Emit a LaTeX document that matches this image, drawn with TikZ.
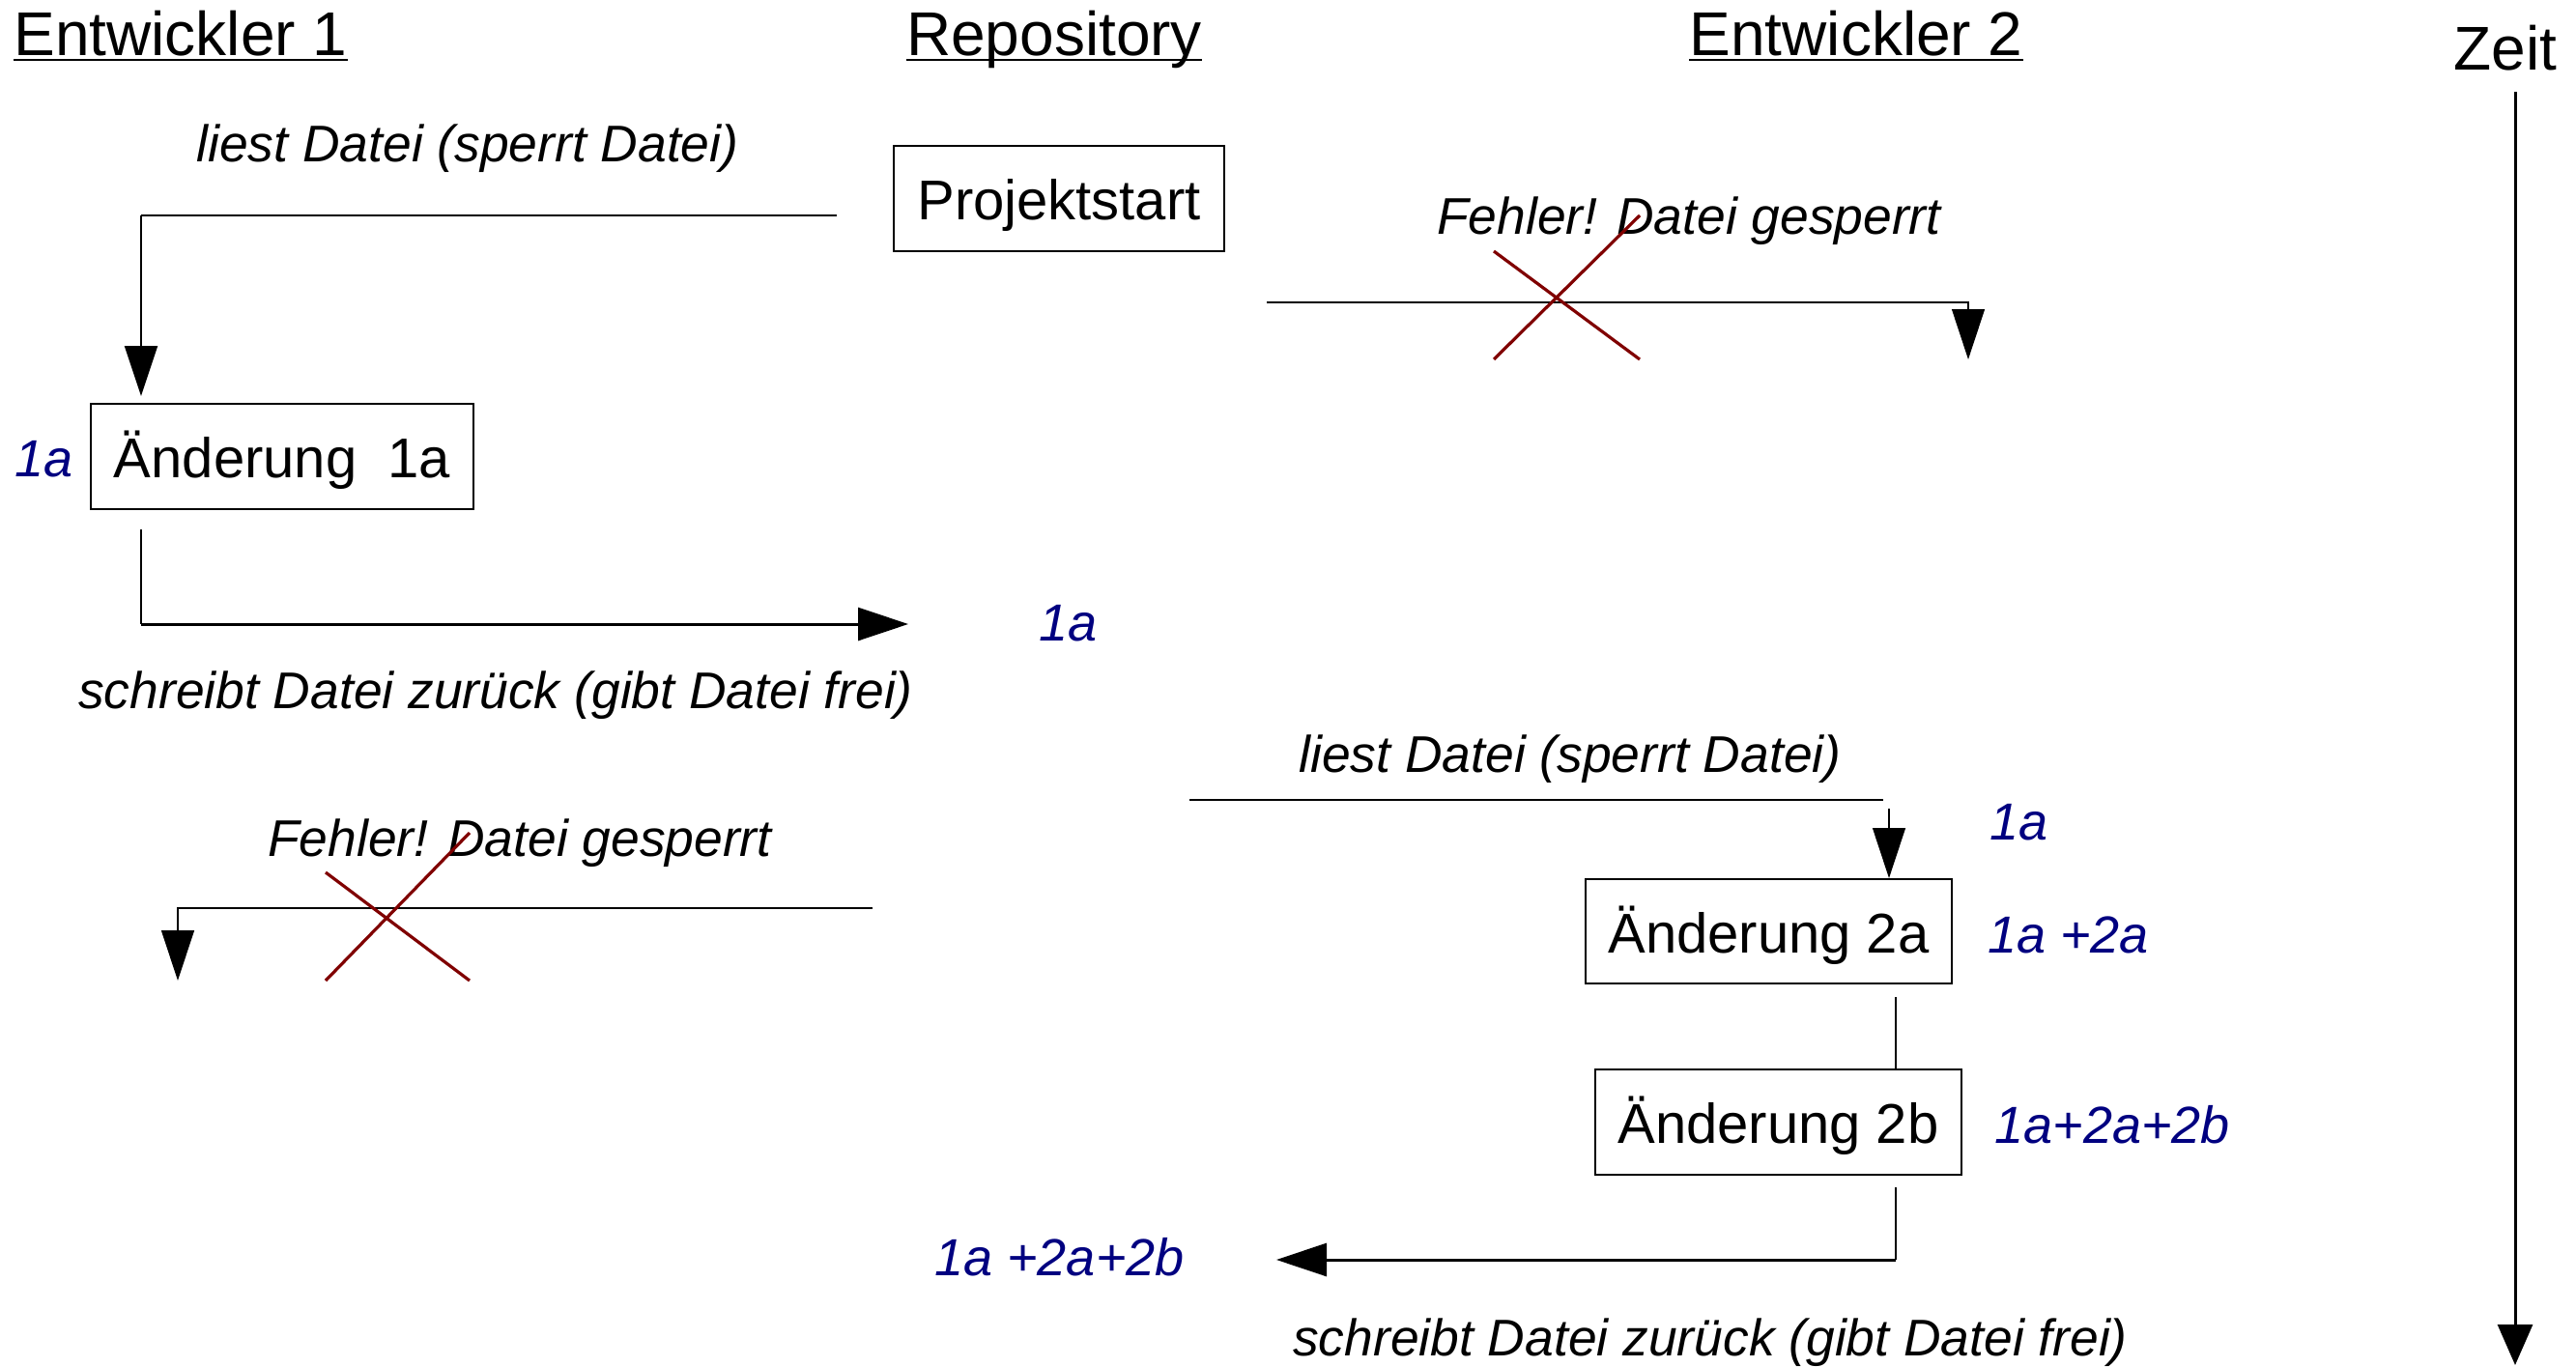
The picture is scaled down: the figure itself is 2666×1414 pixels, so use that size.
\documentclass[tikz,border=0pt]{standalone}
\usepackage{fontspec}
\setmainfont{Liberation Sans}
\usetikzlibrary{arrows.meta}
\definecolor{navyblue}{RGB}{0,0,128}
\definecolor{xred}{RGB}{128,0,0}
\begin{document}
\begin{tikzpicture}[x=0.5pt,y=-0.5pt,
  hdr/.style={anchor=base,font=\fontsize{32}{36}\selectfont,inner sep=0pt},
  box/.style={draw,line width=1pt,inner sep=0pt,text height=28pt,text depth=6pt,font=\fontsize{29}{34}\selectfont},
  lbl/.style={anchor=base,font=\fontsize{26.7}{32}\selectfont\itshape,inner sep=0pt},
  ver/.style={anchor=base west,font=\fontsize{27}{32}\selectfont\itshape,text=navyblue,inner sep=0pt},
  tline/.style={line width=0.6pt},
  wline/.style={line width=1.5pt},
  tip/.style={-{Triangle[length=26pt,width=17pt]}},
  xcross/.style={draw=xred,line width=1.6pt}
]
\useasboundingbox (0,0) rectangle (2666,1414);

% headers
\node[hdr,anchor=base west] (e1) at (14,57) {Entwickler 1};
\node[hdr] (rep) at (1091,57) {Repository};
\node[hdr] (e2) at (1921,57) {Entwickler 2};
\node[hdr] (zeit) at (2593,72) {Zeit};
\foreach \n in {e1,rep,e2}{
  \draw[line width=1pt] ([yshift=-2.6pt]\n.base west) -- ([yshift=-2.6pt]\n.base east);
}

% boxes
\node[box,minimum width=171pt,minimum height=54.5pt] (ps) at (1096,205.5) {Projektstart};
\node[box,minimum width=198pt,minimum height=54.5pt] (a1) at (292,472.5) {Änderung\ \ 1a};
\node[box,minimum width=189.5pt,minimum height=54pt] (a2) at (1830.5,964) {Änderung 2a};
\node[box,minimum width=189.5pt,minimum height=54.5pt] (b2) at (1840.5,1161.5) {Änderung 2b};

% italic labels
\node[lbl] (l1) at (484,167) {liest Datei (sperrt Datei)};
\node[lbl] (f1) at (1748,242) {Fehler! Datei gesperrt};
\node[lbl] (s1) at (513,733) {schreibt Datei zurück (gibt Datei frei)};
\node[lbl] (f2) at (538,886) {Fehler! Datei gesperrt};
\node[lbl] (l2) at (1625,799) {liest Datei (sperrt Datei)};
\node[lbl] (s2) at (1770,1403) {schreibt Datei zurück (gibt Datei frei)};

% version labels
\node[ver] (v1) at (15,493) {1a};
\node[ver] (v2) at (1075,663) {1a};
\node[ver] (v3) at (2059,869) {1a};
\node[ver] (v4) at (2057,986) {1a +2a};
\node[ver] (v5) at (2064,1183) {1a+2a+2b};
\node[ver] (v6) at (967,1320) {1a +2a+2b};

% connector coordinates
\coordinate (r1) at (866,223);
\coordinate (k1) at (146,223);
\coordinate (t1) at (146,410);
\coordinate (r2) at (1311,313);
\coordinate (k2) at (2037,313);
\coordinate (t2) at (2037,372);
\coordinate (d1) at (146,548);
\coordinate (k3) at (146,646);
\coordinate (t3) at (940,646);
\coordinate (r4) at (903,940);
\coordinate (k4) at (184,940);
\coordinate (t4) at (184,1015);
\coordinate (r5) at (1231,828);
\coordinate (k5) at (1949,828);
\coordinate (d5) at (1955,837);
\coordinate (m1) at (1962,1032);
\coordinate (m2) at (1962,1229);
\coordinate (k6) at (1962,1304);
\coordinate (t6) at (1321,1304);
\coordinate (z1) at (2603,95);
\coordinate (z2) at (2603,1413);

% 1: Entwickler 1 reads
\draw[tline] (r1) -- (k1);
\draw[line width=1pt,tip] (k1) -- (t1);
% 2: Entwickler 2 blocked
\draw[tline,tip] (r2) -- (k2) -- (t2);
\draw[xcross] (1546,260) -- (1697,372);
\draw[xcross] (1546,372) -- (1697,223);
% 3: Entwickler 1 writes back
\draw[tline] (d1) -- (k3);
\draw[wline,tip] (k3) -- (t3);
% 4: Entwickler 1 blocked
\draw[tline,tip] (r4) -- (k4) -- (t4);
\draw[xcross] (337,903) -- (486,1015);
\draw[xcross] (337,1015) -- (486,862);
% 5: Entwickler 2 reads
\draw[tline] (r5) -- (k5);
\draw[tline,tip] (d5) -- (d5 |- a2.north);
% 6: 2a to 2b
\draw[tline] (m1) -- (m1 |- b2.north);
% 7: Entwickler 2 writes back
\draw[tline] (m2) -- (k6);
\draw[wline,tip] (k6) -- (t6);
% time axis
\draw[wline,-{Triangle[length=21pt,width=18pt]}] (z1) -- (z2);
\end{tikzpicture}
\end{document}
